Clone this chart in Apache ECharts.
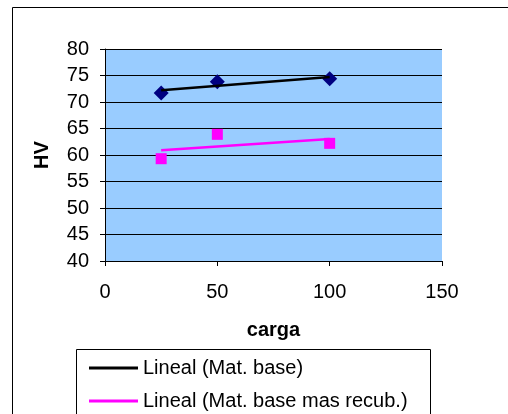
<!DOCTYPE html>
<html>
<head>
<meta charset="utf-8">
<script src="https://cdn.jsdelivr.net/npm/echarts@6/dist/echarts.min.js"></script>
<style>
  html, body { margin: 0; padding: 0; background: #fff; }
  #chart { width: 508px; height: 414px; }
</style>
</head>
<body>
<div id="chart"></div>
<script>
// Hardness (HV) against load (carga)
const cargas = [25, 50, 100];
const hvBase = [71.7, 73.8, 74.4];          // Mat. base
const hvRecub = [59.3, 63.9, 62.2];         // Mat. base mas recub.
// Linear trend endpoints at carga 25 and 100
const trendX = [25, 100];
const trendBase = [72.2, 74.7];
const trendRecub = [60.9, 63.0];
const yTicks = [40, 80, 5];
const xTicks = [0, 150, 50];

const pairs = (xs, ys) => xs.map((x, i) => [x, ys[i]]);
const font = 'Arial, "Liberation Sans", sans-serif';

const chart = echarts.init(document.getElementById('chart'), null, { renderer: 'canvas' });
chart.setOption({
  animation: false,
  backgroundColor: '#ffffff',
  grid: {
    left: 105, top: 49, width: 337, height: 212,
    show: true, backgroundColor: '#99CCFF', borderWidth: 0
  },
  xAxis: {
    type: 'value', min: xTicks[0], max: xTicks[1], interval: xTicks[2],
    name: 'carga', nameLocation: 'middle', nameGap: 59,
    nameTextStyle: { fontFamily: font, fontSize: 20, fontWeight: 'bold', color: '#000' },
    axisLine: { show: true, onZero: false, lineStyle: { color: '#000', width: 1 } },
    axisTick: { show: true, inside: false, length: 5, lineStyle: { color: '#000' } },
    axisLabel: { fontFamily: font, fontSize: 20, color: '#000', margin: 21 },
    splitLine: { show: false }
  },
  yAxis: {
    type: 'value', min: yTicks[0], max: yTicks[1], interval: yTicks[2],
    name: 'HV', nameLocation: 'middle', nameGap: 53,
    nameTextStyle: { fontFamily: font, fontSize: 20, fontWeight: 'bold', color: '#000' },
    axisLine: { show: true, onZero: false, lineStyle: { color: '#000', width: 1 } },
    axisTick: { show: true, inside: false, length: 5, lineStyle: { color: '#000' } },
    axisLabel: { fontFamily: font, fontSize: 20, color: '#000', margin: 16 },
    splitLine: { show: true, lineStyle: { color: '#000', width: 1 } }
  },
  legend: {
    orient: 'vertical', left: 89, top: 358, height: 120, padding: 0,
    itemWidth: 49, itemHeight: 3, itemGap: 13,
    icon: 'rect',
    textStyle: { fontFamily: font, fontSize: 20, color: '#000' },
    data: ['Lineal (Mat. base)', 'Lineal (Mat. base mas recub.)']
  },
  graphic: [
    { type: 'rect', shape: { x: 12.5, y: 7.5, width: 600, height: 600 },
      style: { fill: 'none', stroke: '#000', lineWidth: 1 }, silent: true },
    { type: 'rect', shape: { x: 76.5, y: 349.5, width: 354, height: 100 },
      style: { fill: 'none', stroke: '#000', lineWidth: 1 }, silent: true }
  ],
  series: [
    { name: 'Mat. base', type: 'scatter', symbol: 'diamond', symbolSize: 15,
      itemStyle: { color: '#000080', opacity: 1 }, data: pairs(cargas, hvBase), z: 2 },
    { name: 'Mat. base mas recub.', type: 'scatter', symbol: 'rect', symbolSize: 11,
      itemStyle: { color: '#FF00FF', opacity: 1 }, data: pairs(cargas, hvRecub), z: 2 },
    { name: 'Lineal (Mat. base)', type: 'line', showSymbol: false, symbol: 'none',
      lineStyle: { color: '#000', width: 2.5 }, itemStyle: { color: '#000' },
      data: pairs(trendX, trendBase), z: 3 },
    { name: 'Lineal (Mat. base mas recub.)', type: 'line', showSymbol: false, symbol: 'none',
      lineStyle: { color: '#FF00FF', width: 2.5 }, itemStyle: { color: '#FF00FF' },
      data: pairs(trendX, trendRecub), z: 3 }
  ]
});
</script>
</body>
</html>
